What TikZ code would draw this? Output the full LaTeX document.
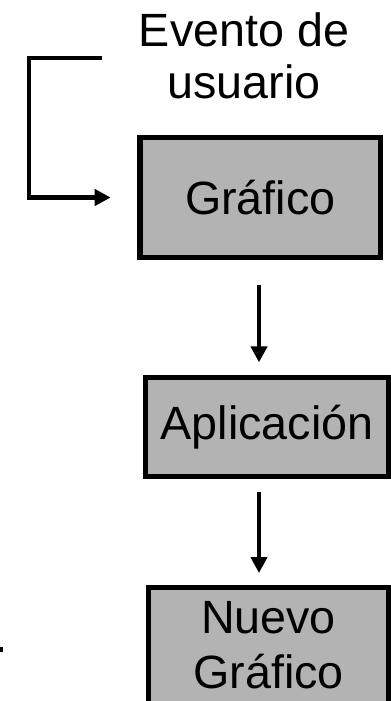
\documentclass[tikz,border=0pt]{standalone}
\usepackage{fontspec}
\setmainfont{Liberation Sans}
\usetikzlibrary{arrows.meta}
\definecolor{boxgray}{RGB}{179,179,179}
\begin{document}
\begin{tikzpicture}[x=0.75pt,y=-0.75pt,
  box/.style={draw=black, fill=boxgray, line width=3.9pt, inner sep=0pt},
  lbl/.style={font=\fontsize{35pt}{39pt}\selectfont, align=center, inner sep=0pt},
  arr/.style={line width=3.4pt, -{Triangle[length=12pt,width=12pt]}}]
\useasboundingbox (0,0) rectangle (391,701);
\node[box, minimum width=180.4pt, minimum height=90pt, lbl] (grafico) at (260.25,197.5) {Gráfico};
\node[box, minimum width=182.25pt, minimum height=74.25pt, lbl] (aplic) at (267,427) {Aplicación};
\node[box, minimum width=180pt, minimum height=101pt, anchor=north] (nuevo) at (268.5,584.5) {};
\node[lbl, font=\fontsize{35pt}{41pt}\selectfont] (nuevotxt) at (268.5,645) {Nuevo\\Gráfico};
\node[lbl] (evento) at (244,56) {Evento de\\usuario};
\coordinate (s) at (102,58);
\coordinate (c) at (29,58);
\draw[arr, shorten >=20pt] (s) -- (c) |- (grafico.west);
\draw[arr, shorten <=18.4pt, shorten >=9.4pt] (grafico.south -| 259,0) -- (aplic.north -| 259,0);
\draw[arr, shorten <=9.4pt, shorten >=8.6pt] (aplic.south -| 259,0) -- (nuevo.north -| 259,0);
\fill[black] (0,647) rectangle (2.5,652);
\end{tikzpicture}
\end{document}
